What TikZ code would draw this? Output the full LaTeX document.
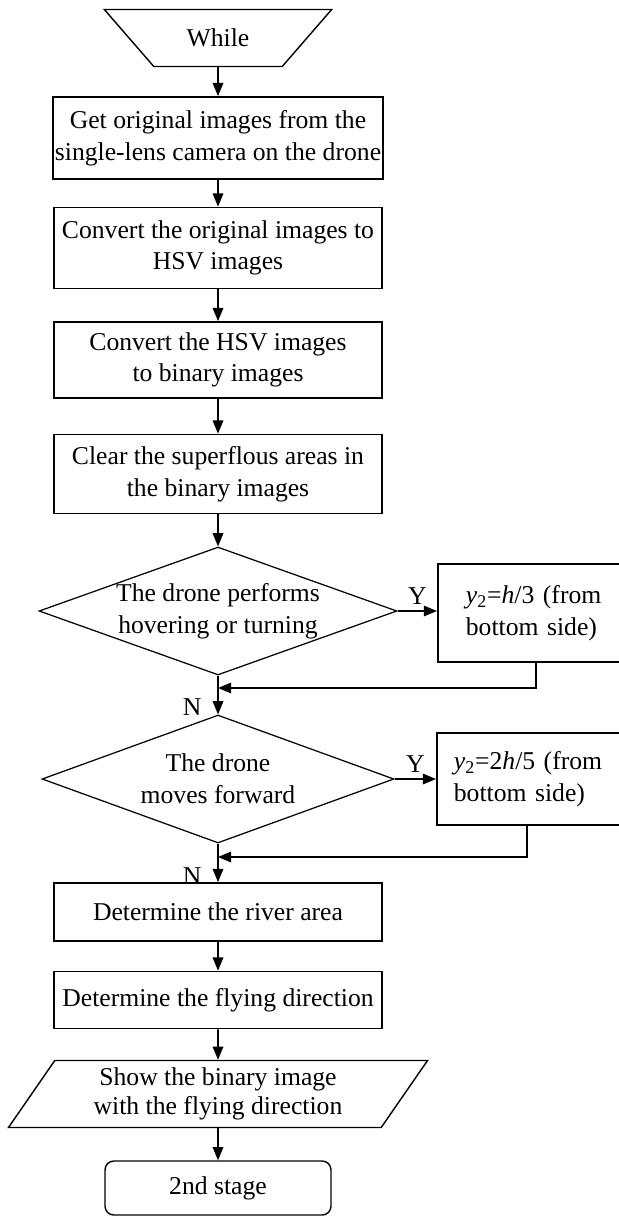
\documentclass[tikz,border=0pt]{standalone}
\usepackage{fontspec}
\setmainfont{Liberation Serif}
\usepackage{tikz}
\usetikzlibrary{shapes.geometric,arrows.meta}

\begin{document}
\begin{tikzpicture}[x=0.02cm, y=-0.02cm,
    every node/.style={font=\fontsize{14.6}{18}\selectfont},
    box/.style={draw, line width=1pt, minimum width=6.56cm, inner sep=1pt, align=center},
    decision/.style={draw, diamond, line width=0.7pt, minimum width=7.16cm, minimum height=2.56cm, inner sep=0pt},
    sidebox/.style={draw, line width=1pt, anchor=west, text width=4.3cm, align=left},
    flow/.style={line width=0.9pt, -{Triangle[length=7.5pt,width=6pt]}}]
      \useasboundingbox (0,0) rectangle (619,1218);
      \clip (0,0) rectangle (619,1218);

      % While
      \node [draw, trapezium, trapezium angle=37, trapezium stretches=true, shape border rotate=180, minimum width=4.56cm, minimum height=1.14cm, line width=0.8pt, inner sep=0pt] (while) at (218,38) {While};

      % Steps
      \node [box, minimum height=1.64cm] (box1) at (218,138) {Get original images from the\\single-lens camera on the drone};
      \node [box, minimum height=1.62cm] (box2) at (218,248) {Convert the original images to\\HSV images};
      \node [box, minimum height=1.52cm] (box3) at (218,360) {Convert the HSV images\\to binary images};
      \node [box, minimum height=1.58cm] (box4) at (218,474) {Clear the superflous areas in\\the binary images};

      % Decisions
      \node [decision] (dec1) at (218,611) {};
      \node [align=center] (dec1text) at (dec1) {The drone performs\\hovering or turning};
      \node [decision, minimum width=7.04cm] (dec2) at (218,779) {};
      \node [align=center] (dec2text) at (dec2) {The drone\\moves forward};

      % Side boxes
      \node [sidebox, inner xsep=0.56cm, minimum height=1.96cm] (side1) at (437,613) {\textit{y}\textsubscript{2}=\textit{h}/3 (from\\bottom side)};
      \node [sidebox, inner xsep=0.34cm, minimum height=1.84cm] (side2) at (436,779) {\textit{y}\textsubscript{2}=2\textit{h}/5 (from\\bottom side)};

      % Last steps
      \node [box, minimum height=1.16cm] (box5) at (218,912) {Determine the river area};
      \node [box, minimum height=1.14cm] (box6) at (218,1000) {Determine the flying direction};
      \node [draw, trapezium, trapezium left angle=56, trapezium right angle=124, trapezium stretches=true, minimum width=8.4cm, minimum height=1.34cm, line width=0.8pt, inner sep=0pt, align=center, font=\fontsize{14.6}{16.5}\selectfont] (show) at (218,1094) {Show the binary image\\with the flying direction};
      \node [draw, rounded corners=5pt, minimum width=4.52cm, minimum height=1.08cm, line width=0.8pt] (stage) at (218,1188) {2nd stage};

      % Arrows
      \draw [flow] (while) -- (box1);
      \draw [flow] (box1) -- (box2);
      \draw [flow] (box2) -- (box3);
      \draw [flow] (box3) -- (box4);
      \draw [flow] (box4) -- (dec1);
      \draw [flow] (dec1.east) -- (dec1.east -| side1.west) node [midway, above] (y1) {Y};
      \draw [flow] (dec1.south) -- (dec2.north) node [pos=0.8, left, xshift=-0.2cm] (n1) {N};
      \draw [flow] (dec2.east) -- (dec2.east -| side2.west) node [midway, above] (y2) {Y};
      \draw [flow] (dec2.south) -- (box5.north) node [pos=0.85, left, xshift=-0.2cm] (n2) {N};
      \draw [flow] (box5) -- (box6);
      \draw [flow] (box6) -- (show);
      \draw [flow] (show) -- (stage);

      % Back to the main line
      \coordinate (back1) at (536,688);
      \coordinate (back2) at (527,857);
      \draw [flow] (back1 |- side1.south) -- (back1) -- (back1 -| dec1.south);
      \draw [flow] (back2 |- side2.south) -- (back2) -- (back2 -| dec2.south);
    \end{tikzpicture}
\end{document}
